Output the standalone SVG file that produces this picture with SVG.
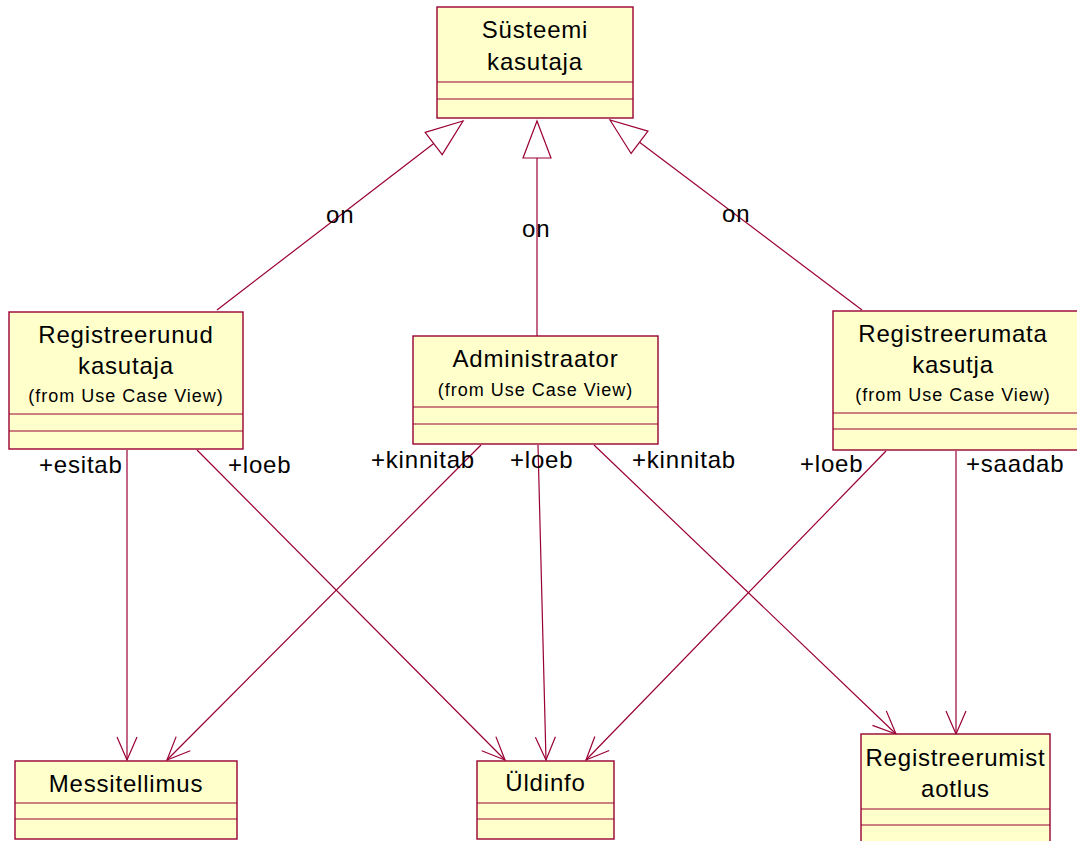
<svg xmlns="http://www.w3.org/2000/svg" width="1077" height="841" viewBox="0 0 1077 841">
<style>
.box{fill:#FFFFCC;stroke:#990033;stroke-width:1.4}
.sep{stroke:#990033;stroke-width:1;fill:none}
.t{font-family:"Liberation Sans",Arial,sans-serif;font-size:24px;letter-spacing:0.8px;fill:#000}
.s{font-family:"Liberation Sans",Arial,sans-serif;font-size:18px;letter-spacing:1px;fill:#000}
.c{text-anchor:middle}
.ln{stroke:#990033;stroke-width:1.2;fill:none}
</style>
<defs>
<marker id="open" markerUnits="userSpaceOnUse" viewBox="-26 -13 28 26" markerWidth="28" markerHeight="26" refX="0" refY="0" orient="auto">
<path d="M-23,-10 L0,0 L-23,10" fill="none" stroke="#990033" stroke-width="1.2"/>
</marker>
<marker id="gen" markerUnits="userSpaceOnUse" viewBox="-40 -16 42 32" markerWidth="42" markerHeight="32" refX="0" refY="0" orient="auto">
<path d="M0,0 L-37,-14 L-37,14 Z" fill="#FFFFFF" stroke="#990033" stroke-width="1.2"/>
</marker>
</defs>
<rect width="1077" height="841" fill="#FFFFFF"/>
<g id="connectors">
<line class="ln" x1="217" y1="310" x2="463" y2="121" marker-end="url(#gen)"/>
<line class="ln" x1="537" y1="336" x2="537" y2="121" marker-end="url(#gen)"/>
<line class="ln" x1="862" y1="310" x2="610" y2="120" marker-end="url(#gen)"/>
<line class="ln" x1="127" y1="450" x2="127" y2="760" marker-end="url(#open)"/>
<line class="ln" x1="197" y1="450" x2="505" y2="760" marker-end="url(#open)"/>
<line class="ln" x1="481" y1="445" x2="167" y2="760" marker-end="url(#open)"/>
<line class="ln" x1="538" y1="445" x2="546" y2="760" marker-end="url(#open)"/>
<line class="ln" x1="594" y1="445" x2="896" y2="734" marker-end="url(#open)"/>
<line class="ln" x1="886" y1="451" x2="586" y2="760" marker-end="url(#open)"/>
<line class="ln" x1="956" y1="451" x2="956" y2="734" marker-end="url(#open)"/>
<text class="t" x="326" y="223">on</text>
<text class="t" x="522" y="237">on</text>
<text class="t" x="722" y="222">on</text>
<text class="t" x="39" y="473">+esitab</text>
<text class="t" x="228" y="473">+loeb</text>
<text class="t" x="371" y="468">+kinnitab</text>
<text class="t" x="510" y="468">+loeb</text>
<text class="t" x="632" y="468">+kinnitab</text>
<text class="t" x="800" y="472">+loeb</text>
<text class="t" x="966" y="472">+saadab</text>
</g>
<g id="susteemi-kasutaja">
<rect class="box" x="437" y="7" width="196" height="111"/>
<line class="sep" x1="437" y1="82" x2="633" y2="82"/>
<line class="sep" x1="437" y1="99" x2="633" y2="99"/>
<text class="t c" x="535" y="38">Süsteemi</text>
<text class="t c" x="535" y="70">kasutaja</text>
</g>
<g id="registreerunud-kasutaja">
<rect class="box" x="9" y="312" width="234" height="137"/>
<line class="sep" x1="9" y1="414" x2="243" y2="414"/>
<line class="sep" x1="9" y1="431" x2="243" y2="431"/>
<text class="t c" x="126" y="343">Registreerunud</text>
<text class="t c" x="126" y="374">kasutaja</text>
<text class="s c" x="126" y="402">(from Use Case View)</text>
</g>
<g id="administraator">
<rect class="box" x="413" y="336" width="245" height="108"/>
<line class="sep" x1="413" y1="407" x2="658" y2="407"/>
<line class="sep" x1="413" y1="424" x2="658" y2="424"/>
<text class="t c" x="535.5" y="367">Administraator</text>
<text class="s c" x="535.5" y="396">(from Use Case View)</text>
</g>
<g id="registreerumata-kasutja">
<rect class="box" x="833" y="311" width="260" height="139"/>
<line class="sep" x1="833" y1="413" x2="1093" y2="413"/>
<line class="sep" x1="833" y1="429" x2="1093" y2="429"/>
<text class="t c" x="953" y="342">Registreerumata</text>
<text class="t c" x="953" y="373">kasutja</text>
<text class="s c" x="953" y="401">(from Use Case View)</text>
</g>
<g id="messitellimus">
<rect class="box" x="15" y="761" width="222" height="78"/>
<line class="sep" x1="15" y1="803" x2="237" y2="803"/>
<line class="sep" x1="15" y1="819" x2="237" y2="819"/>
<text class="t c" x="126" y="792">Messitellimus</text>
</g>
<g id="uldinfo">
<rect class="box" x="477" y="761" width="137" height="78"/>
<line class="sep" x1="477" y1="803" x2="614" y2="803"/>
<line class="sep" x1="477" y1="819" x2="614" y2="819"/>
<text class="t c" x="545.5" y="791">Üldinfo</text>
</g>
<g id="registreerumist-aotlus">
<rect class="box" x="861" y="734" width="189" height="120"/>
<line class="sep" x1="861" y1="809" x2="1050" y2="809"/>
<line class="sep" x1="861" y1="825" x2="1050" y2="825"/>
<text class="t c" x="955.5" y="766">Registreerumist</text>
<text class="t c" x="955.5" y="797">aotlus</text>
</g>
</svg>
